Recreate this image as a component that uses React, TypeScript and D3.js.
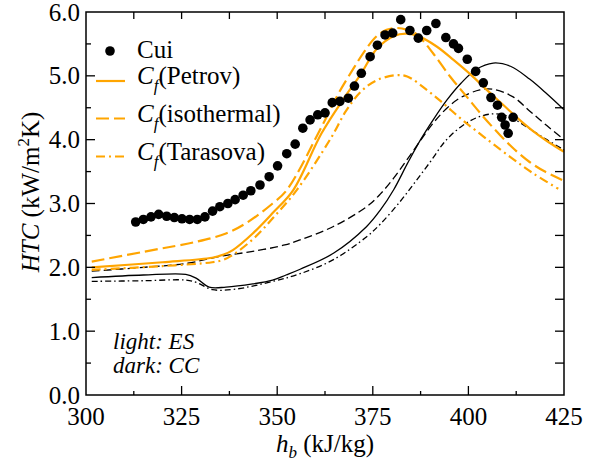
import * as d3 from 'd3';

// Cui experimental points [h_b, HTC]
const cuiData = [
  [313.0, 2.71], [315.0, 2.75], [317.0, 2.79], [319.0, 2.83], [321.1, 2.80],
  [323.1, 2.78], [325.1, 2.76], [327.1, 2.75], [329.1, 2.75], [331.1, 2.79],
  [333.1, 2.88], [335.0, 2.95], [337.1, 3.00], [339.0, 3.06], [341.1, 3.13],
  [343.1, 3.20], [345.5, 3.29], [347.9, 3.42], [350.1, 3.59], [352.5, 3.78],
  [354.7, 3.93], [356.7, 4.18], [358.6, 4.31], [360.6, 4.39], [362.5, 4.42],
  [364.4, 4.58], [366.4, 4.60], [368.6, 4.65], [370.2, 4.84], [372.0, 5.04],
  [374.3, 5.30], [376.2, 5.48], [378.2, 5.64], [380.2, 5.67], [382.3, 5.88],
  [384.7, 5.71], [386.9, 5.59], [389.1, 5.71], [391.5, 5.82], [394.1, 5.60],
  [396.1, 5.50], [397.4, 5.43], [399.7, 5.26], [401.9, 5.07], [403.9, 4.89],
  [405.9, 4.66], [407.6, 4.54], [408.7, 4.35], [409.6, 4.23], [410.4, 4.10],
  [411.7, 4.35]
];

// light (ES) curves
const petrovES = [
  [301.5, 2.00], [320, 2.08], [333, 2.15], [336, 2.20], [338.4, 2.27], [343.6, 2.53],
  [348.8, 2.85], [354.2, 3.21], [361.6, 4.10], [367.7, 4.67], [371.7, 5.01],
  [376.0, 5.42], [380.4, 5.62], [383.9, 5.66], [387.3, 5.61], [391.7, 5.46],
  [396.1, 5.25], [400.4, 5.03], [404.8, 4.78], [409, 4.55], [413, 4.33],
  [417, 4.13], [421, 3.96], [425, 3.81]
];
const isothermalES = [
  [301.5, 2.09], [317.4, 2.27], [328.8, 2.40], [336.6, 2.53], [341.8, 2.69],
  [348.8, 3.00], [352.5, 3.21], [361.6, 4.20], [366, 4.72], [370, 5.12],
  [373, 5.40], [376, 5.62], [378.6, 5.72], [381, 5.75], [384, 5.72],
  [386.5, 5.65], [390.8, 5.35], [395.2, 4.99], [399.6, 4.67], [403.9, 4.36],
  [408.3, 4.07], [412, 3.85], [416, 3.65], [420, 3.50], [424.5, 3.37]
];
const tarasovaES = [
  [301.5, 1.96], [320, 2.02], [333, 2.08], [336, 2.12], [339, 2.22], [344, 2.46],
  [349, 2.78], [355.1, 3.21], [364, 4.02], [368, 4.45], [372, 4.76],
  [376, 4.93], [381, 5.01], [384, 4.99], [389.1, 4.78], [393.4, 4.57],
  [397.8, 4.34], [402.2, 4.13], [410.9, 3.73], [417, 3.47], [423.5, 3.23]
];

// dark (CC) curves
const petrovCC = [
  [301.5, 1.84], [315, 1.88], [326.1, 1.89], [328.8, 1.83], [332.2, 1.69],
  [336.6, 1.69], [343.6, 1.74], [348.8, 1.80], [352.3, 1.88], [356, 1.97],
  [364.7, 2.22], [373.4, 2.64], [377, 2.90], [380.5, 3.22], [384, 3.62],
  [387.5, 4.00], [391, 4.33], [394.5, 4.63], [398, 4.88], [402, 5.10],
  [406.5, 5.20], [411, 5.15], [416, 4.95], [420.5, 4.72], [425, 4.47]
];
const isothermalCC = [
  [301.5, 1.94], [315, 2.00], [326.1, 2.06], [334.9, 2.17], [343.6, 2.25],
  [352, 2.35], [356, 2.43], [364.7, 2.64], [373.4, 2.95], [377, 3.15],
  [380.5, 3.40], [384.7, 3.75], [390.8, 4.26], [394.5, 4.50], [398, 4.66],
  [403, 4.78], [406.5, 4.79], [411.7, 4.67], [416, 4.45], [420.5, 4.22], [425, 4.00]
];
const tarasovaCC = [
  [301.5, 1.78], [315, 1.79], [326.1, 1.80], [329, 1.76], [333.1, 1.65],
  [339.2, 1.66], [348.8, 1.78], [356, 1.90], [364.7, 2.12], [373.4, 2.48],
  [377, 2.68], [382, 3.02], [386, 3.33], [390, 3.65], [394, 3.98], [398, 4.20],
  [402, 4.34], [405.6, 4.40], [409, 4.39], [412, 4.32], [416, 4.17],
  [420.5, 4.00], [425, 3.84]
];

const xMajorTicks = [300, 325, 350, 375, 400, 425];
const yMajorTicks = [0, 1, 2, 3, 4, 5, 6];
const legendNames = ['Petrov', 'isothermal', 'Tarasova'];

const ORANGE = '#ffa500';
const FONT = '"Liberation Serif", "Times New Roman", Tinos';
// inline style so no stylesheet rule can override the face
const serif = { fontFamily: FONT };

const left = 86, right = 564, top = 12, bottom = 395;
const x = d3.scaleLinear().domain([300, 425]).range([left, right]);
const y = d3.scaleLinear().domain([0, 6]).range([bottom, top]);

const line = d3.line<number[]>()
  .x(d => x(d[0]))
  .y(d => y(d[1]))
  .curve(d3.curveCatmullRom.alpha(0.5));

// dark first, then light on top
const curves = [
  { data: petrovCC, color: '#000', width: 1.3, dash: undefined },
  { data: isothermalCC, color: '#000', width: 1.3, dash: '8 4' },
  { data: tarasovaCC, color: '#000', width: 1.3, dash: '6 3 1.5 3' },
  { data: petrovES, color: ORANGE, width: 2.2, dash: undefined },
  { data: isothermalES, color: ORANGE, width: 2.2, dash: '13 5' },
  { data: tarasovaES, color: ORANGE, width: 2.2, dash: '9 4 2 4' }
];
const legendDashes = [undefined, '13 5', '9 4 2 4'];
const legendLineY = [81, 118.5, 156.5];
const legendTextY = [83.5, 121.5, 159.5];

const App = () => {
  const xAll = d3.range(312.5, 425, 12.5);
  const yAll = d3.range(0.5, 6, 0.5);

  return (
    <svg width={596} height={467}
      style={{ position: 'absolute', left: 0, top: 0, background: '#fff' }}>
      <style>{`text, tspan { font-family: ${FONT} !important; }`}</style>
      {curves.map((c, i) => (
        <path key={i} d={line(c.data) || ''} fill="none" stroke={c.color}
          strokeWidth={c.width} strokeDasharray={c.dash} />
      ))}
      {cuiData.map((d, i) => (
        <circle key={i} cx={x(d[0])} cy={y(d[1])} r={4.8} fill="#000" />
      ))}

      <rect x={left} y={top} width={right - left} height={bottom - top}
        fill="none" stroke="#000" strokeWidth={1.5} />

      <g stroke="#000" strokeWidth={1.3}>
        {xAll.map(v => {
          const major = xMajorTicks.includes(v);
          return (
            <g key={'x' + v}>
              <line x1={x(v)} x2={x(v)} y1={bottom} y2={bottom - (major ? 9 : 4)} />
              <line x1={x(v)} x2={x(v)} y1={top} y2={top + 7} />
            </g>
          );
        })}
        {yAll.map(v => {
          const major = Number.isInteger(v);
          return (
            <g key={'y' + v}>
              <line x1={left} x2={left + (major ? 9 : 5)} y1={y(v)} y2={y(v)} />
              <line x1={right} x2={right - 9} y1={y(v)} y2={y(v)} />
            </g>
          );
        })}
      </g>

      {xMajorTicks.map(d => (
        <text key={'xl' + d} x={x(d)} y={425} style={serif} fontSize={25}
          textAnchor="middle">{d}</text>
      ))}
      {yMajorTicks.map(d => (
        <text key={'yl' + d} x={80} y={y(d) + 8.5} style={serif} fontSize={25}
          textAnchor="end">{d3.format('.1f')(d)}</text>
      ))}

      <text x={325} y={452} style={serif} fontSize={25} textAnchor="middle">
        <tspan fontStyle="italic">h</tspan>
        <tspan fontStyle="italic" fontSize={17} dy={6}>b</tspan>
        <tspan dy={-6}> (kJ/kg)</tspan>
      </text>
      <text transform="translate(39,192) rotate(-90)" style={serif} fontSize={25}
        textAnchor="middle">
        <tspan fontStyle="italic">HTC</tspan>
        <tspan> (kW/m</tspan>
        <tspan fontSize={17} dy={-10}>2</tspan>
        <tspan dy={10}>K)</tspan>
      </text>

      <circle cx={110} cy={51} r={4.8} fill="#000" />
      <text x={137} y={58} style={serif} fontSize={25}>Cui</text>
      {legendNames.map((name, i) => (
        <g key={name}>
          <line x1={96} x2={125} y1={legendLineY[i]} y2={legendLineY[i]}
            stroke={ORANGE} strokeWidth={2.2} strokeDasharray={legendDashes[i]} />
          <text x={137} y={legendTextY[i]} style={serif} fontSize={25}>
            <tspan fontStyle="italic">C</tspan>
            <tspan fontStyle="italic" fontSize={17} dy={7}>f</tspan>
            <tspan dy={-7}>({name})</tspan>
          </text>
        </g>
      ))}

      <text x={113} y={349} style={serif} fontSize={23} fontStyle="italic">light: ES</text>
      <text x={113} y={373} style={serif} fontSize={23} fontStyle="italic">dark: CC</text>
    </svg>
  );
};

export default App;
